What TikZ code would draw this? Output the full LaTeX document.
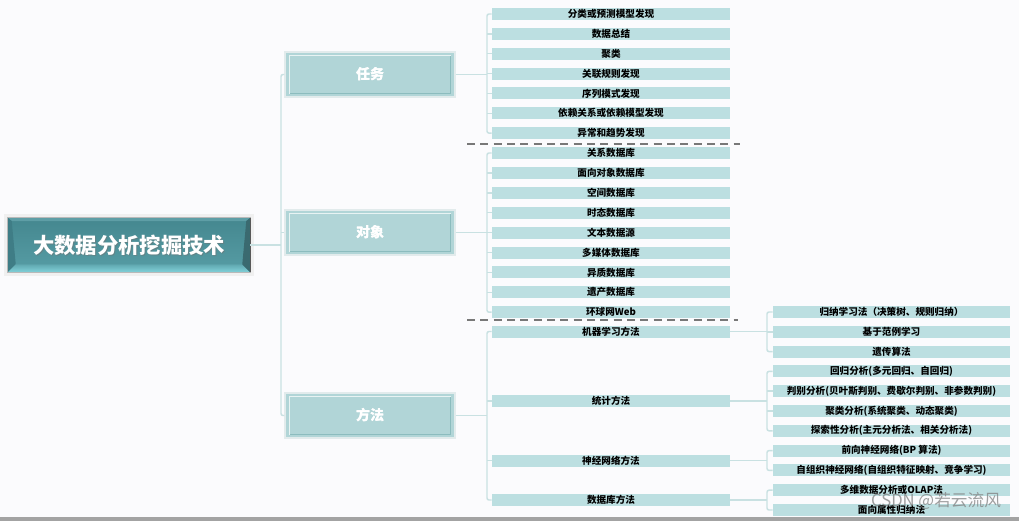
\documentclass[tikz,border=0pt]{standalone}
\usepackage{fontspec}
\setmainfont{Noto Sans CJK SC}
\definecolor{bg}{HTML}{FBFBFD}
\definecolor{leaf}{HTML}{BCDFE1}
\definecolor{mid}{HTML}{B1D5D7}
\definecolor{midin}{HTML}{8CBCBE}
\definecolor{midout}{HTML}{E2EBEC}
\definecolor{conn}{HTML}{C9E1E2}
\definecolor{rootA}{HTML}{44878F}
\definecolor{rootB}{HTML}{579DA5}
\definecolor{rootC}{HTML}{82D2DA}
\definecolor{rootL}{HTML}{3F7D86}
\definecolor{rootR}{HTML}{3A6A70}
\definecolor{rootT}{HTML}{5E9EA6}
\definecolor{dashc}{HTML}{787878}
\definecolor{barc}{HTML}{A3A3A3}
\begin{document}
\begin{tikzpicture}[x=0.75pt,y=-0.75pt,
  leafbox/.style={fill=leaf, minimum width=178.5pt, minimum height=9pt, inner sep=0pt,
    font=\bfseries\fontsize{7.2}{8}\selectfont, text=black},
  rightbox/.style={leafbox, minimum width=177.75pt},
  midbox/.style={fill=mid, draw=midout, line width=0.9pt, minimum width=127.5pt,
    minimum height=33.75pt, inner sep=0pt, font=\bfseries\fontsize{10.5}{12}\selectfont, text=white},
  rootbox/.style={top color=rootA, bottom color=rootB, minimum width=181.5pt,
    minimum height=40.5pt, inner sep=0pt},
  roottext/.style={font=\bfseries\fontsize{16}{18}\selectfont, text=white},
  link/.style={draw=conn, line width=1.1pt},
  sepline/.style={draw=dashc, line width=1.2pt, dash pattern=on 6pt off 4pt},
  wmark/.style={font=\fontsize{12.5}{14}\selectfont, text=gray, opacity=0.75}
]
\useasboundingbox (0,0) rectangle (1019,521);
\fill[bg] (0,0) rectangle (1019,521);

% root
\node[rootbox] (root) at (129,245) {};
\draw[gray!12, line width=2pt] ([shift={(-1.5pt,-1.5pt)}]root.south west) rectangle ([shift={(1.5pt,1.5pt)}]root.north east);
\fill[rootT] (root.north west) -- (root.north east) -- ([shift={(-3pt,-2.5pt)}]root.north east) -- ([shift={(3pt,-2.5pt)}]root.north west) -- cycle;
\fill[rootL] (root.north west) -- ([shift={(3pt,-2.5pt)}]root.north west) -- ([shift={(6pt,6pt)}]root.south west) -- (root.south west) -- cycle;
\shade[top color=rootB!80!rootC, bottom color=rootC] (root.south west) -- (root.south east) -- ([shift={(-6pt,6pt)}]root.south east) -- ([shift={(6pt,6pt)}]root.south west) -- cycle;
\fill[rootR] (root.north east) -- ([shift={(-3pt,-2.5pt)}]root.north east) -- ([shift={(-6pt,6pt)}]root.south east) -- (root.south east) -- cycle;
\draw[gray!55, line width=0.5pt] (root.south west) rectangle (root.north east);
\draw[black!65, line width=1.1pt] (root.north east) -- (root.south east);
\node[roottext, text=black!55, opacity=0.5] at ([xshift=0.8pt,yshift=-0.8pt]root.center) {大数据分析挖掘技术};
\node[roottext] (roott) at (root.center) {大数据分析挖掘技术};

% level 1
\node[midbox] (task) at (370,74.5) {任务};
\node[midbox] (obj)  at (370,232.5) {对象};
\node[midbox] (meth) at (370,415.5) {方法};
\foreach \n in {task,obj,meth}{
  \draw[midin, line width=0.8pt] ([shift={(3.5pt,3pt)}]\n.south west) rectangle ([shift={(-3.5pt,-3pt)}]\n.north east);
  \draw[white!70!mid, line width=0.8pt] ([shift={(3.5pt,3pt)}]\n.south west) -- ([shift={(3.5pt,-3pt)}]\n.north west) -- ([shift={(-3.5pt,-3pt)}]\n.north east);
}
\node[font=\bfseries\fontsize{10.5}{12}\selectfont, text=white] at (task.center) {任务};
\node[font=\bfseries\fontsize{10.5}{12}\selectfont, text=white] at (obj.center) {对象};
\node[font=\bfseries\fontsize{10.5}{12}\selectfont, text=white] at (meth.center) {方法};

% spine
\coordinate (sp) at (281,0);
\draw[link] (root.east) -- (root.east -| sp);
\draw[link, rounded corners=1.5pt] (task.west) -- (task.west -| sp) -- (meth.west -| sp) -- (meth.west);
\draw[link] (obj.west -| sp) -- (obj.west);

% task leaves
\foreach \t [count=\i] in {分类或预测模型发现,数据总结,聚类,关联规则发现,序列模式发现,依赖关系或依赖模型发现,异常和趋势发现}
  \node[leafbox] (t\i) at (611,{14+19.85*(\i-1)}) {\t};
% object leaves
\foreach \t [count=\i] in {关系数据库,面向对象数据库,空间数据库,时态数据库,文本数据源,多媒体数据库,异质数据库,遗产数据库,环球网Web}
  \node[leafbox] (o\i) at (611,{153+19.9*(\i-1)}) {\t};
% method leaves
\node[leafbox] (m1) at (611,331.5) {机器学习方法};
\node[leafbox] (m2) at (611,401) {统计方法};
\node[leafbox] (m3) at (611,460.5) {神经网络方法};
\node[leafbox] (m4) at (611,500) {数据库方法};
% right column
\foreach \t [count=\i] in {归纳学习法（决策树、规则归纳）,基于范例学习,遗传算法,回归分析(多元回归、自回归),判别分析(贝叶斯判别、费歇尔判别、非参数判别),聚类分析(系统聚类、动态聚类),探索性分析(主元分析法、相关分析法),前向神经网络(BP 算法),自组织神经网络(自组织特征映射、竞争学习),多维数据分析或OLAP法,面向属性归纳法}
  \node[rightbox] (r\i) at (891.5,{312+19.8*(\i-1)}) {\t};

% brackets level 1
\coordinate (bx) at (487,0);
\draw[link] (task.east) -- (task.east -| bx);
\draw[link, rounded corners=1.5pt] (t1.west) -- (t1.west -| bx) -- (t7.west -| bx) -- (t7.west);
\foreach \i in {2,...,6} \draw[link] (t\i.west -| bx) -- (t\i.west);
\draw[link] (obj.east) -- (obj.east -| bx);
\draw[link, rounded corners=1.5pt] (o1.west) -- (o1.west -| bx) -- (o9.west -| bx) -- (o9.west);
\foreach \i in {2,...,8} \draw[link] (o\i.west -| bx) -- (o\i.west);
\draw[link] (meth.east) -- (meth.east -| bx);
\draw[link, rounded corners=1.5pt] (m1.west) -- (m1.west -| bx) -- (m4.west -| bx) -- (m4.west);
\foreach \i in {2,3} \draw[link] (m\i.west -| bx) -- (m\i.west);

% brackets level 2
\coordinate (rx) at (767,0);
\draw[link] (m1.east) -- (m1.east -| rx);
\draw[link, rounded corners=1.5pt] (r1.west) -- (r1.west -| rx) -- (r3.west -| rx) -- (r3.west);
\draw[link] (r2.west -| rx) -- (r2.west);
\draw[link] (m2.east) -- (m2.east -| rx);
\draw[link, rounded corners=1.5pt] (r4.west) -- (r4.west -| rx) -- (r7.west -| rx) -- (r7.west);
\foreach \i in {5,6} \draw[link] (r\i.west -| rx) -- (r\i.west);
\draw[link] (m3.east) -- (m3.east -| rx);
\draw[link, rounded corners=1.5pt] (r8.west) -- (r8.west -| rx) -- (r9.west -| rx) -- (r9.west);
\draw[link] (m4.east) -- (m4.east -| rx);
\draw[link, rounded corners=1.5pt] (r10.west) -- (r10.west -| rx) -- (r11.west -| rx) -- (r11.west);

% separators
\draw[sepline] (467,144) -- (740,144);
\draw[sepline] (467,320) -- (738,320);

% watermark and bottom bar
\node[wmark] (wm) at (936,501) {CSDN @若云流风};
\fill[barc] (0,516.5) rectangle (1019,521);
\end{tikzpicture}
\end{document}
